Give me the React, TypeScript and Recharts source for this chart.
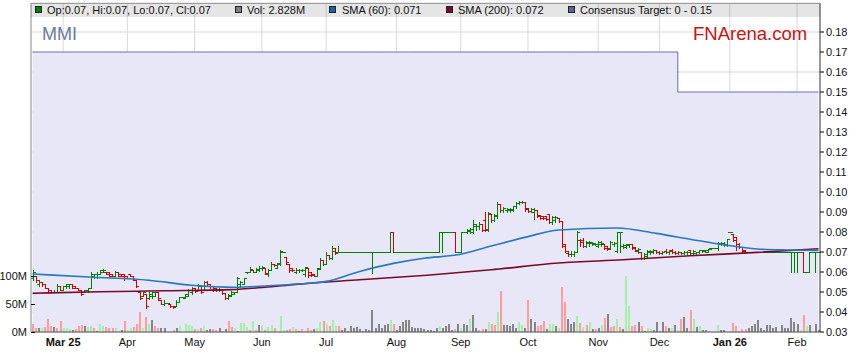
import React from "react";
import { ComposedChart, Bar, Line, Area, XAxis, YAxis, CartesianGrid } from "recharts";

const FONT = '"Liberation Sans", Arial, sans-serif';

// daily bars; prices in 0.001 units, volume in millions
const opens = [
  57, 58, 54, 55, 54, 52, 51, 50, 50, 53,
  51, 53, 53, 54, 53, 52, 51, 50, 51, 52,
  58, 59, 59, 60, 60, 60, 59, 58, 60, 59,
  59, 58, 59, 58, 56, 50, 48, 49, 47, 48,
  48, 50, 46, 44, 44.5, 44, 43, 43, 45, 47.5,
  47, 48, 50, 52, 51, 53, 51, 55, 54, 53,
  52, 51, 51, 49.5, 47, 48, 49, 50, 54, 54,
  60, 60, 61, 60, 61, 62, 62, 59, 61, 64,
  62, 64, 70, 67.5, 64, 62, 60, 61, 61, 59,
  62, 60, 59, 58, 62, 66, 64, 68.5, 67, 72,
  70, 70, 70, 70, 70, 70, 70, 70, 70, 70,
  70, 70, 70, 70, 70, 70, 70, 70, 80, 70,
  70, 70, 70, 70, 70, 70, 70, 70, 70, 70,
  70, 70, 70, 70, 80, 80, 80, 80, 80, 70,
  70, 80, 80, 80.5, 80, 83, 83, 84, 86, 81,
  89, 86, 88, 94, 91, 91, 91, 91, 93, 94.5,
  95, 95, 92, 90.5, 90, 91, 88.5, 88, 88, 89,
  85, 86, 87, 85.5, 74, 69.5, 69, 69, 70, 76,
  76, 73, 74.5, 74.5, 74, 73, 74, 74, 73, 72,
  74, 70.5, 80, 73, 72.5, 73.5, 74, 72.5, 70.5, 70,
  67, 68, 70, 70, 71, 70, 69.5, 70.5, 70, 71,
  70, 69.5, 70, 69.5, 70, 71, 69.5, 69.5, 70, 71,
  70.5, 70, 72, 72, 72, 74, 74, 73.5, 80, 79,
  77.3, 74, 72.5, 71, 70, 70, 70, 70, 70, 70,
  70, 70, 70, 70, 70, 70, 70, 70, 70, 70,
  70, 70, 70, 60, 60, 70, 70, 70,
];
const highs = [
  61, 58, 56, 55, 54, 52, 51, 51, 54, 53,
  53, 54, 54, 54, 53, 52, 51, 51, 52, 60,
  59, 60, 61, 61.5, 60, 60, 59, 60.5, 60, 59,
  59, 58, 59, 58, 56, 50, 50, 49, 50, 50,
  50, 50, 46, 46, 44.5, 44, 43, 46, 47.5, 47.5,
  49, 51.5, 52.5, 52, 54, 53, 55.6, 55.6, 54, 53,
  52, 52, 51, 49.5, 49, 50.5, 50, 57.3, 55.5, 57,
  60, 62.3, 61, 62, 63, 63, 62, 61.5, 64.8, 64,
  64.5, 71, 70, 67.5, 64, 62, 62, 61.5, 61.5, 62.5,
  62, 60, 59, 62, 66.8, 66, 70, 68.5, 73, 72,
  73, 70, 70, 70, 70, 70, 70, 70, 70, 70,
  70, 70, 70, 70, 70, 70, 70, 80, 80, 70,
  70, 70, 70, 70, 70, 70, 70, 70, 70, 70,
  70, 70, 70, 80, 80, 80, 80, 80, 80, 70,
  80, 80, 81.5, 82, 86, 84, 85, 84, 90, 90,
  89, 89, 95, 94, 92.5, 92, 92, 93, 95, 95.5,
  95.5, 95, 92, 92, 92, 91, 88.5, 88, 88, 89,
  88, 88, 87, 85.5, 74, 70.5, 70.5, 70.5, 80.5, 76.5,
  77, 75.5, 75.5, 75, 74.5, 75.5, 75.5, 74, 73, 75.5,
  75, 80.2, 80.2, 74, 74, 74, 74, 72.5, 72, 70,
  69.5, 71, 71, 71.5, 71, 70.5, 70.5, 71.5, 71, 71.5,
  70.5, 70.5, 70, 70.5, 70.5, 71, 71, 70, 71, 71.2,
  71, 71.5, 72, 72, 74.8, 75, 75, 76.5, 80.2, 79,
  77.3, 74.5, 72.5, 71, 70, 70, 70, 70, 70, 70,
  70, 70, 70, 70, 70, 70, 70, 70, 70, 70,
  70, 70, 70, 60, 70, 70, 70, 70,
];
const lows = [
  56, 55, 53, 53, 52, 50.5, 50, 50, 50, 51,
  51, 52, 52, 52, 52, 51, 48.5, 50, 50, 52,
  57, 57, 59, 60, 59, 58, 58, 58, 58, 58,
  56, 57, 58, 56, 52.5, 46.5, 48, 42, 46.5, 47,
  48, 46, 44, 43.5, 44.5, 42.5, 42.2, 43, 45, 47.5,
  47, 48, 49, 50, 51, 49.5, 51, 53, 52, 50.5,
  50.5, 50.5, 49, 46.5, 46.5, 48, 49, 50, 53, 54,
  59.5, 60, 60, 60, 60.5, 61, 59, 58, 61, 63,
  62, 63.5, 70, 64, 60, 60.5, 59.5, 60, 60.5, 58.2,
  57.6, 58, 58, 58, 61.5, 63.5, 64, 66.5, 66.5, 68.8,
  70, 70, 70, 70, 70, 70, 70, 70, 70, 70,
  70, 59.5, 70, 70, 70, 70, 70, 70, 70, 70,
  70, 70, 70, 70, 70, 70, 70, 70, 70, 70,
  70, 70, 70, 70, 70, 80, 80, 80, 70, 70,
  70, 80, 79.5, 79.5, 79.5, 81, 81.5, 80.5, 80.5, 80.5,
  85, 85.5, 87, 90, 90, 90, 90, 90.5, 92, 94,
  94.5, 90.5, 90, 90, 86.5, 87.5, 86.5, 86.5, 86, 84.5,
  84, 85, 85, 72.5, 70, 68, 68, 68, 70, 73,
  72.5, 72.5, 73, 73.5, 73.5, 72.5, 73, 71.5, 71, 71.5,
  73, 70, 70, 72, 72, 72.5, 71.5, 70.5, 69.5, 66.5,
  66.5, 67.3, 69, 69.5, 69.5, 69, 69, 69.5, 69, 69.5,
  69, 69, 69, 69, 69, 69, 69, 69, 69.5, 70,
  70, 70, 71.5, 72, 71, 73.5, 73.2, 73.2, 80, 75.5,
  71, 72, 70, 69.8, 70, 70, 70, 70, 70, 70,
  70, 70, 70, 70, 70, 70, 70, 70, 60, 60,
  60, 70, 60, 60, 60, 70, 60, 70,
];
const closes = [
  60, 56, 55, 54, 52, 51, 50, 50, 53, 51,
  53, 54, 54, 52, 52, 51, 49, 51, 52, 59,
  59, 59, 61, 61, 59, 58, 58, 60, 58, 58,
  57, 57, 58, 56, 53, 47, 50, 43, 49, 50,
  50, 47, 44, 44.5, 44.5, 43, 42.5, 45, 47.5, 47.5,
  49, 51, 52, 50.5, 53.5, 50, 55, 54, 53, 51,
  51, 51.5, 49.5, 47, 48.5, 50, 50, 57, 55, 57,
  60, 61.5, 60, 61.5, 62, 62.5, 59.5, 61, 64, 63.5,
  64.5, 70.5, 70, 65, 61, 61, 61, 61, 61, 62.5,
  58.5, 58.5, 58, 61.5, 66, 64, 68.5, 67, 70.5, 69.5,
  70, 70, 70, 70, 70, 70, 70, 70, 70, 70,
  70, 70, 70, 70, 70, 70, 70, 80, 70, 70,
  70, 70, 70, 70, 70, 70, 70, 70, 70, 70,
  70, 70, 70, 80, 80, 80, 80, 80, 70, 70,
  80, 80, 81, 81.5, 84, 83, 84, 81, 81.5, 89.5,
  86, 88.5, 94, 91, 92, 91.5, 91.5, 93, 94.5, 95,
  95, 91.5, 90.5, 91.5, 91, 88, 87, 87, 86.5, 85,
  87.5, 87.5, 85.5, 73, 70.5, 69, 69, 70, 80, 75,
  73, 75, 75, 74.5, 74, 75, 74.5, 72, 71.5, 75,
  74.5, 80, 80, 73.5, 74, 73.8, 72, 71, 71.5, 67,
  69, 70.5, 70.5, 71, 70, 69.5, 70, 70, 70.5, 70,
  69.5, 70, 69.5, 70, 70, 69.5, 70.5, 70, 71, 71,
  71, 71.5, 72, 72, 74.5, 74.5, 74, 76.5, 80, 76,
  74, 72.5, 70.5, 70, 70, 70, 70, 70, 70, 70,
  70, 70, 70, 70, 70, 70, 70, 70, 70, 70,
  70, 70, 60, 60, 70, 70, 70, 70,
];
const volumes = [
  15, 8, 7, 8, 9, 24, 11, 9, 7, 20,
  7, 8, 5, 3, 5, 11, 13, 11, 9, 10,
  7, 2, 14, 11, 9, 7, 8, 7, 2, 3,
  20, 4, 7, 9, 15, 35, 7, 27, 15, 22,
  10, 7, 8, 7, 0, 0, 4, 8, 11, 0,
  14, 12, 10, 6, 6, 7, 11, 4, 5, 5,
  4, 7, 2, 6, 20, 9, 7, 2, 16, 16,
  9, 4, 20, 4, 13, 12, 4, 9, 12, 7,
  0, 29, 4, 4, 6, 9, 6, 2, 5, 2,
  8, 3, 6, 8, 17, 20, 14, 10, 22, 11,
  10, 4, 8, 2, 11, 7, 9, 5, 2, 5,
  3, 40, 8, 14, 7, 12, 14, 22, 14, 4,
  10, 18, 22, 22, 9, 8, 8, 8, 5, 3,
  4, 2, 8, 10, 8, 10, 14, 4, 5, 14,
  8, 14, 13, 24, 30, 8, 4, 6, 5, 18,
  14, 12, 36, 73, 12, 12, 10, 14, 8, 18,
  12, 8, 58, 23, 18, 10, 12, 20, 6, 14,
  14, 11, 8, 80, 53, 24, 15, 18, 29, 16,
  9, 13, 18, 6, 6, 7, 12, 25, 32, 9,
  11, 23, 9, 6, 100, 46, 10, 12, 17, 10,
  2, 8, 5, 4, 18, 1, 17, 11, 8, 7,
  13, 3, 24, 27, 7, 40, 24, 9, 11, 4,
  4, 2, 0, 0, 13, 4, 4, 0, 1, 16,
  11, 2, 5, 5, 7, 11, 15, 22, 8, 4,
  13, 13, 7, 9, 0, 13, 8, 7, 25, 18,
  15, 4, 31, 11, 13, 0.5, 15, 2.828,
];
// volume bar tone per day: u = up, d = down, n = unchanged
const volTone =
  "ddnudddndd" + "uuundddnuu" + "dnuuddduun" + "duudddudun" + "ddnnnndnun" +
  "uuududunnd" + "dndnddunuu" + "ududnuduud" + "nuuddudndu" + "ddnuududuu" +
  "dnnnnnnnnn" + "nnnnnnnudn" + "nnnnnnnnnn" + "nnnunnnndn" + "unnunnddnu" +
  "ddudnnnnnu" + "undnndddnu" + "unuddnnnud" + "udundnudnd" + "dudnuuddnd" +
  "nuunndndnu" + "nudnndunun" + "nunnunnnud" + "ddddnnnnnn" + "nnnnnnnnnn" +
  "nudunnnn";

const sma60At = [0, 20, 38, 52, 66, 77, 86, 96, 107, 118, 128, 139, 150, 161, 172, 191, 204, 215, 226, 237, 247, 257];
const sma60 = [59, 57.4, 55.9, 53.4, 52.4, 53.1, 53.9, 55.3, 60.3, 64.3, 66.9, 68.6, 73, 77.3, 81, 82, 79.3, 76.4, 73.6, 71.5, 71, 70.8];
const sma200At = [0, 22, 43, 65, 76, 86, 107, 129, 150, 172, 193, 215, 237, 257];
const sma200 = [49.4, 50.1, 50.6, 51.2, 52.4, 53.8, 56.1, 58.4, 61.1, 64.5, 66.1, 68.1, 69.8, 71.6];

const targetFrom = [0, 211];
const targetLevel = [0.17, 0.15];

const monthTicks = [10, 31, 53, 75, 96, 119, 140, 162, 185, 205, 228, 250];
const monthLabels = ["Mar 25", "Apr", "May", "Jun", "Jul", "Aug", "Sep", "Oct", "Nov", "Dec", "Jan 26", "Feb"];
const priceTicks = [0.03, 0.04, 0.05, 0.06, 0.07, 0.08, 0.09, 0.1, 0.11, 0.12, 0.13, 0.14, 0.15, 0.16, 0.17, 0.18];
const volTicks = [0, 50, 100];

const rows = opens.map((o, i) => {
  let t = targetLevel[0];
  targetFrom.forEach((from, k) => {
    if (i >= from) t = targetLevel[k];
  });
  return {
    i,
    o: o / 1000,
    h: highs[i] / 1000,
    l: lows[i] / 1000,
    c: closes[i] / 1000,
    v: volumes[i],
    tone: volTone[i],
    target: t,
    sma60: null as number | null,
    sma200: null as number | null,
  };
});
sma60At.forEach((idx, k) => (rows[idx].sma60 = sma60[k] / 1000));
sma200At.forEach((idx, k) => (rows[idx].sma200 = sma200[k] / 1000));

const PLOT_L = 31;

function OhlcShape(props: any) {
  const { x, y, width, height, payload } = props;
  if (x == null || y == null || !payload) return null;
  const top = Math.min(y, y + (height || 0));
  const bottom = Math.max(y, y + (height || 0));
  const { o, h, l, c } = payload;
  const span = h - l;
  const py = (p: number) => (span > 0 ? top + ((h - p) / span) * (bottom - top) : top);
  const n = Math.round(x + width / 2);
  const t = Math.round(top);
  const b = Math.round(bottom);
  const color = c < o ? "#d40000" : "#008000";
  return (
    <g fill={color}>
      <rect x={n} y={t} width={1} height={b - t + 1} />
      <rect x={n - 2} y={Math.round(py(o))} width={2} height={1} />
      <rect x={n + 1} y={Math.round(py(c))} width={2} height={1} />
    </g>
  );
}

function VolShape(props: any) {
  const { x, y, width, height, payload } = props;
  if (!payload || !height || height <= 0) return null;
  const fill = payload.tone === "u" ? "#a4f0a4" : payload.tone === "d" ? "#ff9c9c" : "#858585";
  const n = Math.round(x + width / 2) - 1;
  const t = Math.round(y);
  const b = Math.round(y + height);
  return <rect x={n} y={t} width={2} height={Math.max(1, b - t)} fill={fill} />;
}

function VolTick(props: any) {
  const { x, y, payload } = props;
  return (
    <g>
      <text x={x} y={y} dy={4} textAnchor="end" fontSize={11} fill="#111" fontFamily={FONT}>
        {payload.value}M
      </text>
      <line x1={PLOT_L} x2={PLOT_L + 4} y1={y + 0.5} y2={y + 0.5} stroke="#000" />
    </g>
  );
}

function MonthTick(props: any) {
  const { x, y, payload } = props;
  const label = monthLabels[monthTicks.indexOf(payload.value)] ?? "";
  const bold = /\d/.test(label);
  return (
    <text x={x} y={y} dy={8} textAnchor="middle" fontSize={11} fontWeight={bold ? 700 : 400} fill="#111" fontFamily={FONT}>
      {label}
    </text>
  );
}

const legendItems = [
  { sq: 35, tx: 47, color: "#008000", text: "Op:0.07, Hi:0.07, Lo:0.07, Cl:0.07" },
  { sq: 235, tx: 247, color: "#808080", text: "Vol: 2.828M" },
  { sq: 329, tx: 342, color: "#1a64a8", text: "SMA (60): 0.071" },
  { sq: 446, tx: 458, color: "#7a0a2a", text: "SMA (200): 0.072" },
  { sq: 568, tx: 580, color: "#62629a", text: "Consensus Target: 0 - 0.15" },
];

export default function App() {
  return (
    <div style={{ position: "absolute", left: 0, top: 0, width: 859, height: 363, background: "#fff", fontFamily: FONT }}>
      <ComposedChart width={859} height={363} data={rows} margin={{ top: 3, right: 0, bottom: 0, left: 0 }}>
        <CartesianGrid xAxisId="main" yAxisId="price" stroke="#d9d9d9" />
        <XAxis
          xAxisId="main"
          dataKey="i"
          ticks={monthTicks}
          interval={0}
          height={31}
          tickLine={false}
          tickSize={0}
          tickMargin={6}
          axisLine={{ stroke: "#555" }}
          tick={<MonthTick />}
        />
        <XAxis xAxisId="ohlc" dataKey="i" hide />
        <YAxis
          yAxisId="vol"
          orientation="left"
          width={31}
          domain={[0, 587.5]}
          ticks={volTicks}
          allowDataOverflow
          tickLine={false}
          tickSize={0}
          tickMargin={4}
          axisLine={{ stroke: "#9a9a9a" }}
          tick={<VolTick />}
        />
        <YAxis
          yAxisId="price"
          orientation="right"
          width={39}
          domain={[0.03, 0.1945]}
          ticks={priceTicks}
          allowDataOverflow
          tickSize={4}
          tickMargin={2}
          tickLine={{ stroke: "#000" }}
          axisLine={{ stroke: "#444" }}
          tickFormatter={(v: number) => v.toFixed(2)}
          tick={{ fontSize: 11, fill: "#111", fontFamily: FONT }}
        />
        <Area
          xAxisId="main"
          yAxisId="price"
          type="stepAfter"
          dataKey="target"
          stroke="#6a6aae"
          strokeWidth={1}
          fill="#e7e7f8"
          fillOpacity={1}
          dot={false}
          activeDot={false}
          isAnimationActive={false}
        />
        <Bar xAxisId="main" yAxisId="vol" dataKey="v" barSize={2} shape={<VolShape />} isAnimationActive={false} />
        <Line
          xAxisId="main"
          yAxisId="price"
          type="monotone"
          dataKey="sma200"
          connectNulls
          stroke="#7a0a2a"
          strokeWidth={1.6}
          dot={false}
          activeDot={false}
          isAnimationActive={false}
        />
        <Line
          xAxisId="main"
          yAxisId="price"
          type="monotone"
          dataKey="sma60"
          connectNulls
          stroke="#2a78bc"
          strokeWidth={1.6}
          dot={false}
          activeDot={false}
          isAnimationActive={false}
        />
        <Bar
          xAxisId="ohlc"
          yAxisId="price"
          dataKey={(d: any) => [d.l, d.h]}
          barSize={3}
          shape={<OhlcShape />}
          isAnimationActive={false}
        />
      </ComposedChart>
      <svg width={859} height={363} style={{ position: "absolute", left: 0, top: 0, pointerEvents: "none" }}>
        <rect x={31} y={3} width={789} height={14} fill="#000" fillOpacity={0.1} />
        <line x1={31} x2={820} y1={3.5} y2={3.5} stroke="#9a9a9a" />
        {legendItems.map((it) => (
          <g key={it.text}>
            <rect x={it.sq + 0.5} y={6.5} width={6} height={6} fill={it.color} stroke="#222" />
            <text x={it.tx} y={14} fontSize={11} fill="#111" fontFamily={FONT}>
              {it.text}
            </text>
          </g>
        ))}
        <text x={42} y={40} fontSize={18} fill="#6b7b9b" fontFamily={FONT}>
          MMI
        </text>
        <text x={693} y={40} fontSize={18.5} fill="#cc1111" fontFamily={FONT}>
          FNArena.com
        </text>
      </svg>
    </div>
  );
}
